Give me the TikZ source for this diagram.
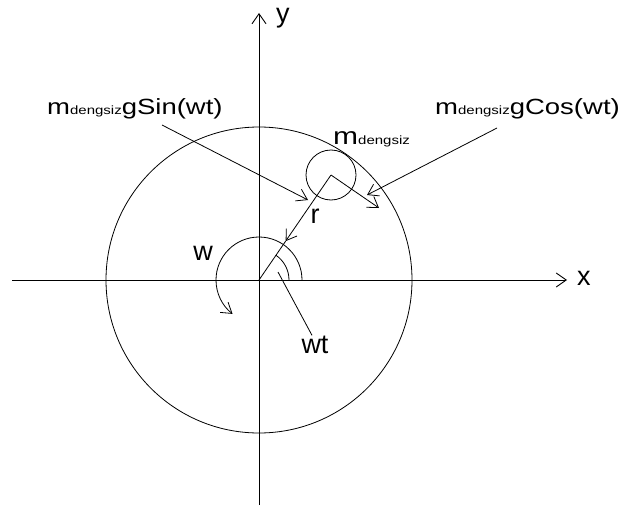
\documentclass[tikz,border=0pt]{standalone}
\usepackage{fontspec}
\setmainfont{Liberation Sans}
\newfontfamily\eqfont[FakeStretch=1.25]{Liberation Sans}
\usetikzlibrary{arrows.meta, calc}

\begin{document}
\begin{tikzpicture}[
  x=1pt, y=-1pt,
  axis/.style={line width=0.9pt, -{Straight Barb[length=10pt, width=14pt]}},
  thin/.style={line width=0.8pt},
  ptr/.style={line width=0.8pt, -{Straight Barb[length=10pt, width=13pt]}},
  ax/.style={font=\fontsize{27}{30}\selectfont, inner sep=0pt, anchor=base},
  eq/.style={font=\eqfont\fontsize{22}{24}\selectfont, inner sep=0pt, anchor=base west}
]
  \useasboundingbox (0,0) rectangle (624,511);

  % ── Axes ───────────────────────────────────────────────────────
  \coordinate (O)  at (259,280);
  \coordinate (xL) at (12,280);
  \coordinate (xR) at (567,280);
  \coordinate (yB) at (259,505);
  \coordinate (yT) at (259,13);
  \draw[axis] (xL) -- (xR);
  \draw[axis] (yB) -- (yT);
  \node[ax, anchor=base west] (xlbl) at (577,285) {x};
  \node[ax, anchor=base west] (ylbl) at (276,23) {y};

  % ── Circles ────────────────────────────────────────────────────
  \coordinate (M) at (331,175);
  \coordinate (T) at (379,208);
  \coordinate (R) at ($(M)!0.63!(O)$);
  \draw[thin] (O) circle[radius=153];
  \draw[thin] (M) circle[radius=25];

  % ── Vectors ────────────────────────────────────────────────────
  \draw[ptr]  (M) -- (R);
  \draw[thin] (R) -- (O);
  \draw[ptr]  (M) -- (T);
  \node[ax] (rlbl) at (315,223) {r};

  % ── Angles ─────────────────────────────────────────────────────
  \draw[ptr]  ($(O)+(43,0)$) arc[start angle=0, end angle=-232, radius=43];
  \draw[thin] ($(O)+(30,0)$) arc[start angle=0, end angle=-56, radius=30];
  \node[ax] (wlbl)  at (203,260) {w};
  \node[ax] (wtlbl) at (315,353) {wt};
  \coordinate (wtP) at (278,272);
  \draw[thin] (wtP) -- ($(wtlbl.north)+(-3,0)$);

  % ── Forces ─────────────────────────────────────────────────────
  \node[eq] (mlbl) at (333,144)
    {{\fontsize{24}{24}\selectfont m}{\fontsize{12}{12}\selectfont dengsiz}};
  \node[eq] (sinlbl) at (47,114)
    {m{\fontsize{12}{12}\selectfont dengsiz}gSin(wt)};
  \node[eq] (coslbl) at (435,114)
    {m{\fontsize{12}{12}\selectfont dengsiz}gCos(wt)};

  \coordinate (sinS) at (162,125);
  \coordinate (sinE) at (308,200);
  \coordinate (cosS) at (497,128);
  \coordinate (cosE) at (367,195);
  \draw[ptr] (sinS) -- (sinE);
  \draw[ptr] (cosS) -- (cosE);

\end{tikzpicture}
\end{document}
